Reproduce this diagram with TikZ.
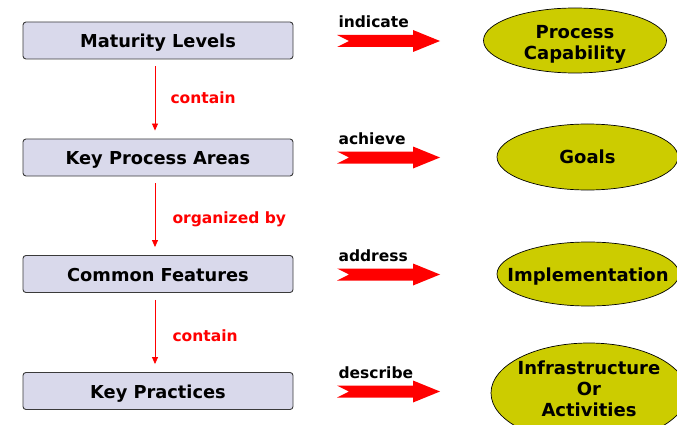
\documentclass[tikz,border=0pt]{standalone}
\usepackage{fontspec}
\setmainfont{DejaVu Sans}
\usetikzlibrary{shapes.geometric,arrows.meta}
\definecolor{boxfill}{HTML}{D9D9EB}
\definecolor{boxline}{HTML}{3A3A3A}
\definecolor{ovalfill}{HTML}{CCCC00}
\definecolor{relred}{HTML}{FF0000}
\tikzset{
  level/.style={draw=boxline, line width=0.9pt, fill=boxfill, rounded corners=3pt,
    minimum width=270pt, minimum height=37pt, inner sep=0pt,
    text height=15pt, text depth=1pt,
    font=\fontsize{17.8}{20}\selectfont\bfseries},
  oval/.style={ellipse, draw=black, line width=0.7pt, fill=ovalfill,
    inner xsep=-20pt, inner ysep=0pt, text height=15pt, text depth=1pt,
    font=\fontsize{18}{21}\selectfont\bfseries},
  multioval/.style={oval, text height={}, text depth={}, align=center},
  rel/.style={anchor=west, font=\fontsize{15.5}{17}\selectfont\bfseries},
  contains/.style={rel, text=relred},
  down/.style={draw=relred, line width=0.8pt, -{Triangle[length=7pt,width=6pt]},
    shorten <=7pt, shorten >=8pt},
  blockarrow/.style={fill=relred}
}
% notched block arrow drawn from its tail point
\newcommand{\blockarrowat}[1]{%
  \fill[blockarrow] ([yshift=6pt]#1) -- ++(76pt,0) -- ++(0,5pt) -- ++(27pt,-11pt)
    -- ++(-27pt,-11pt) -- ++(0,5pt) -- ++(-76pt,0) -- ++(12pt,6pt) -- cycle;}
\begin{document}
\begin{tikzpicture}[x=1pt,y=-1pt]
\useasboundingbox (0,0) rectangle (677,425);

% hierarchy boxes
\node[level] (ml)  at (158,40.5) {Maturity Levels};
\node[level] (kpa) at (158,157.5) {Key Process Areas};
\node[level] (cf)  at (158,274) {Common Features};
\node[level] (kp)  at (158,391) {Key Practices};

% containment arrows
\draw[down] ([xshift=-3pt]ml.south) -- ([xshift=-3pt]kpa.north);
\draw[down] ([xshift=-3pt]kpa.south) -- ([xshift=-3pt]cf.north);
\draw[down] ([xshift=-3pt]cf.south) -- ([xshift=-3pt]kp.north);
\node[contains] (l1) at (167,98) {contain};
\node[contains] (l2) at (169,219) {organized by};
\node[contains] (l3) at (169,335.5) {contain};

% outcome ovals
\node[multioval, minimum width=183pt, minimum height=65pt] (pc) at (575,40.5)
  {\rule{0pt}{21pt}Process\\Capability};
\node[oval, minimum width=181pt, minimum height=66pt] (go) at (587.5,157) {Goals};
\node[oval, minimum width=182pt, minimum height=64pt] (im) at (588,274) {Implementation};
\node[multioval, minimum width=196pt, minimum height=100pt] (ia) at (589,393)
  {Infrastructure\\Or\\Activities\rule[-8pt]{0pt}{0pt}};

% relation labels and block arrows
\node[rel] (r1) at (335,22) {indicate};
\node[rel] (r2) at (335,139) {achieve};
\node[rel] (r3) at (335,256) {address};
\node[rel] (r4) at (335,373) {describe};
\coordinate (t1) at (337,41);
\coordinate (t2) at (337,157.5);
\coordinate (t3) at (337,274.5);
\coordinate (t4) at (337,391.5);
\blockarrowat{t1}
\blockarrowat{t2}
\blockarrowat{t3}
\blockarrowat{t4}
\end{tikzpicture}
\end{document}
